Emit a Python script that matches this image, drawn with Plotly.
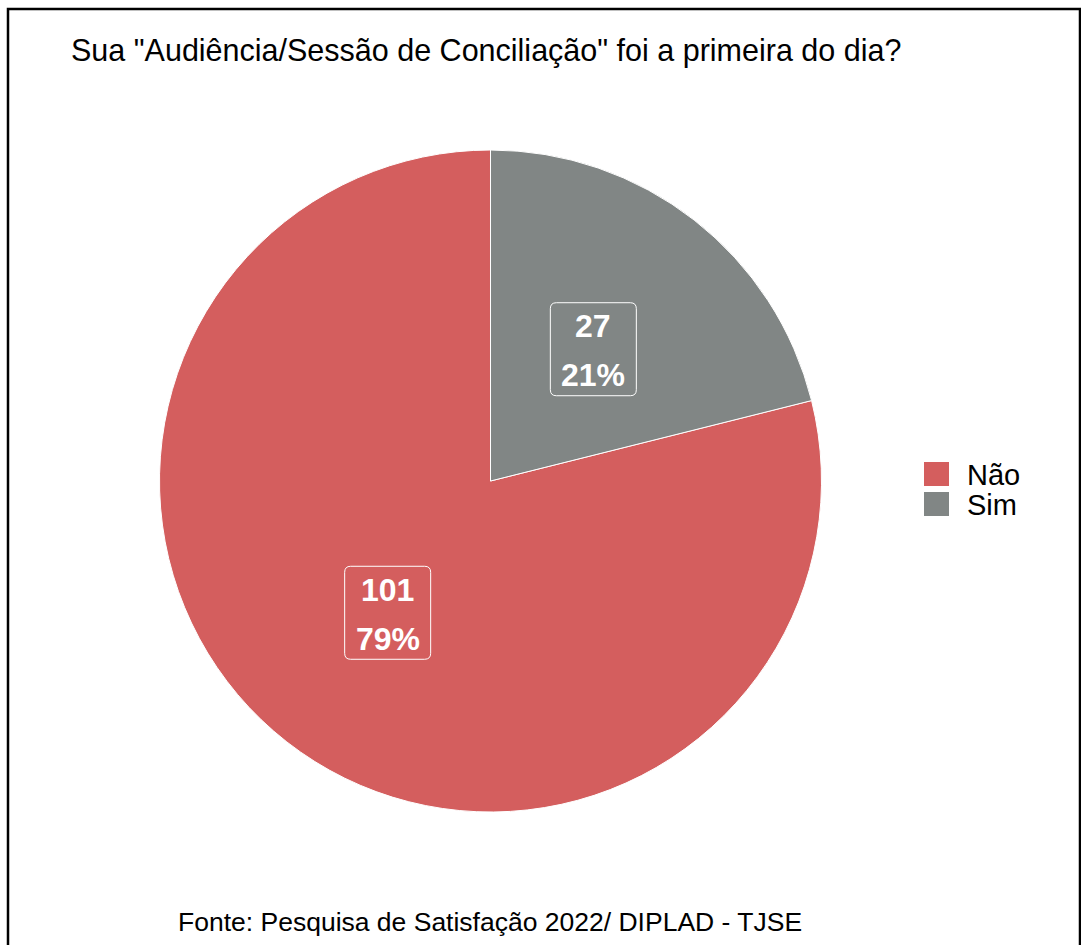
import math
import plotly.graph_objects as go

# ---- data ----
categories = ["Não", "Sim"]
counts = [101, 27]
colors = ["#D45E5E", "#818685"]
title_text = 'Sua "Audiência/Sessão de Conciliação" foi a primeira do dia?'
source_text = "Fonte: Pesquisa de Satisfação 2022/ DIPLAD - TJSE"

W, H = 1081, 945
cx, cy, R = 490.5, 481.0, 331.0  # pie centre / radius in pixels

dom_x = [(cx - R) / W, (cx + R) / W]
dom_y = [1 - (cy + R) / H, 1 - (cy - R) / H]

total = sum(counts)
# start "Não" so that the last slice ("Sim") ends at 12 o'clock (clockwise)
rot = 360.0 * counts[-1] / total

fig = go.Figure(go.Pie(
    labels=categories,
    values=counts,
    marker=dict(colors=colors, line=dict(color="white", width=1)),
    sort=False,
    direction="clockwise",
    rotation=rot,
    textinfo="none",
    hoverinfo="label+value+percent",
    domain=dict(x=dom_x, y=dom_y),
    showlegend=False,
))

shapes = []
annotations = []


def to_paper(s):
    out = []
    for tok in s.split():
        if "," in tok:
            cmd = ""
            if tok[0].isalpha():
                cmd, tok = tok[0], tok[1:]
            a, b = tok.split(",")
            out.append(f"{cmd}{float(a)/W:.5f},{1-float(b)/H:.5f}")
        else:
            out.append(tok)
    return " ".join(out)


# labels at half radius along each slice's mid angle
start = 0.0  # degrees, measured counterclockwise from 12 o'clock
for cat, v in zip(categories, counts):
    frac = v / total
    mid = start + frac * 360 / 2
    start += frac * 360
    ang = math.radians(mid)
    px = cx - 0.505 * R * math.sin(ang)
    py = cy - 0.505 * R * math.cos(ang)
    bw, bh, rr = 86, 93, 6
    x0, x1, y0, y1 = px - bw / 2, px + bw / 2, py - bh / 2, py + bh / 2
    path = (f"M{x0+rr},{y0} L{x1-rr},{y0} Q{x1},{y0} {x1},{y0+rr} "
            f"L{x1},{y1-rr} Q{x1},{y1} {x1-rr},{y1} L{x0+rr},{y1} "
            f"Q{x0},{y1} {x0},{y1-rr} L{x0},{y0+rr} Q{x0},{y0} {x0+rr},{y0} Z")
    shapes.append(dict(type="path", xref="paper", yref="paper", path=to_paper(path),
                       line=dict(color="white", width=1)))
    annotations.append(dict(x=px / W, y=1 - (py - 23) / H, xref="paper", yref="paper",
                            text=f"<b>{v}</b>", showarrow=False,
                            font=dict(family="Liberation Sans, Arial", size=32, color="white"),
                            xanchor="center", yanchor="middle"))
    annotations.append(dict(x=px / W, y=1 - (py + 26) / H, xref="paper", yref="paper",
                            text=f"<b>{round(frac*100)}%</b>", showarrow=False,
                            font=dict(family="Liberation Sans, Arial", size=32, color="white"),
                            xanchor="center", yanchor="middle"))

# custom legend
leg_y = [474, 504]
for cat, col, ly in zip(categories, colors, leg_y):
    shapes.append(dict(type="rect", xref="paper", yref="paper",
                       x0=924 / W, x1=949 / W, y0=1 - (ly + 12) / H, y1=1 - (ly - 12) / H,
                       fillcolor=col, line=dict(color=col, width=0)))
    annotations.append(dict(x=965 / W, y=1 - (ly + 1) / H, xref="paper", yref="paper",
                            text=cat, showarrow=False, xanchor="left", yanchor="middle",
                            font=dict(family="Liberation Sans, Arial", size=29, color="black")))

# frame border
shapes.append(dict(type="rect", xref="paper", yref="paper",
                   x0=8 / W, x1=1080 / W, y0=-0.05, y1=1 - 9 / H,
                   line=dict(color="black", width=2.5), fillcolor="rgba(0,0,0,0)"))

# title and source
annotations.append(dict(x=69 / W, y=1 - 50 / H, xref="paper", yref="paper",
                        text=title_text, showarrow=False, xanchor="left", yanchor="middle",
                        font=dict(family="Liberation Sans, Arial", size=30.5, color="black")))
annotations.append(dict(x=490 / W, y=1 - 922 / H, xref="paper", yref="paper",
                        text=source_text, showarrow=False, xanchor="center", yanchor="middle",
                        font=dict(family="Liberation Sans, Arial", size=26.5, color="black")))

fig.update_layout(
    width=W, height=H,
    margin=dict(l=0, r=0, t=0, b=0),
    paper_bgcolor="white", plot_bgcolor="white",
    shapes=shapes, annotations=annotations,
    showlegend=False,
)

fig.write_html("out.html")
